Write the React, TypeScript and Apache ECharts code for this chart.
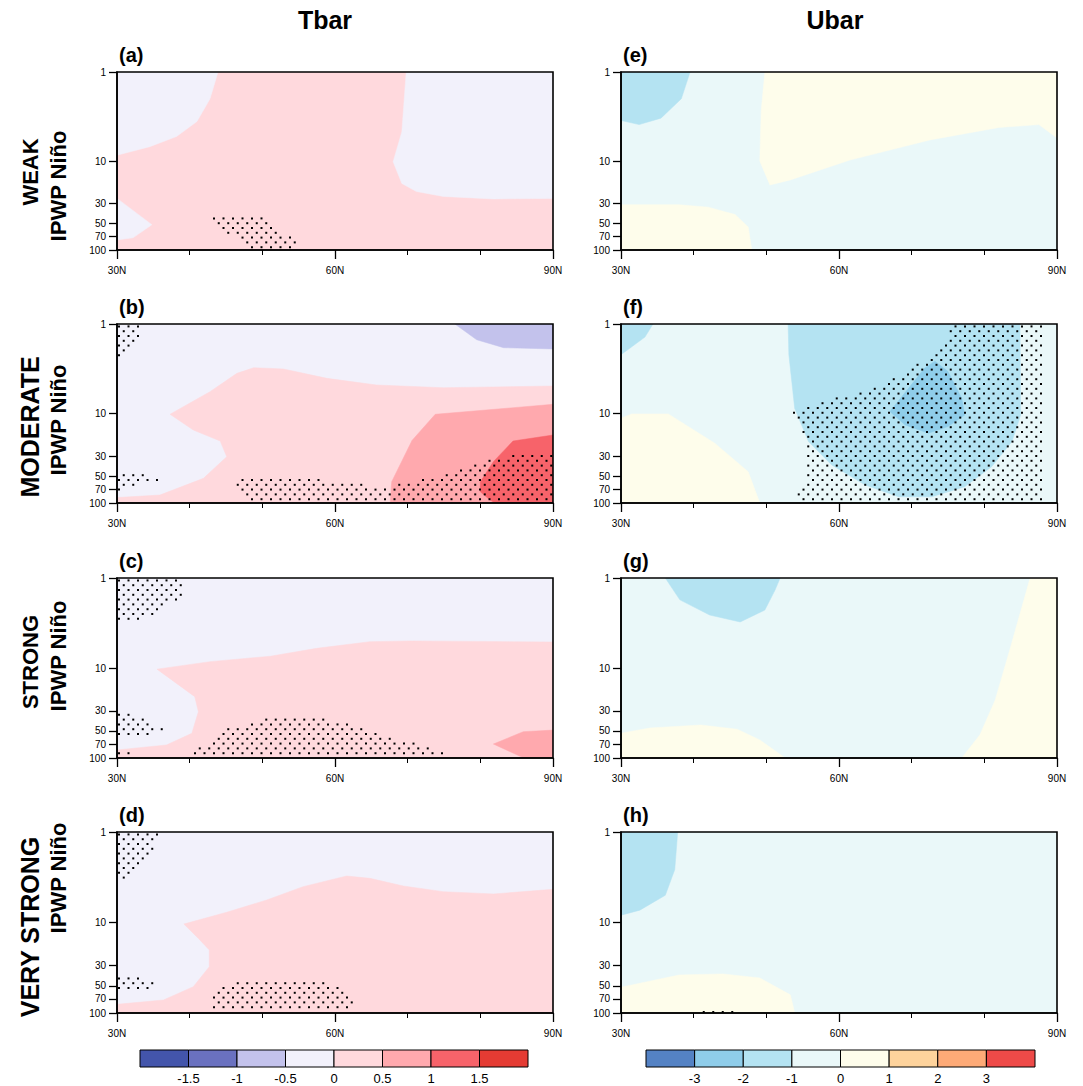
import React, { useEffect, useRef } from 'react';
import * as echarts from 'echarts';

const FONT = '"Liberation Sans", Arial, Helvetica, sans-serif';

// ---- tick labels / levels ----
const LAT_TICKS_MAJOR = 30; // 30N, 60N, 90N
const P_TICKS = [1, 10, 30, 50, 70, 100];
const TBAR_LEVELS = ['-1.5', '-1', '-0.5', '0', '0.5', '1', '1.5'];
const UBAR_LEVELS = ['-3', '-2', '-1', '0', '1', '2', '3'];
const TBAR_COLORS = ['#4355AB', '#6A71C0', '#C3C2EC', '#F2F1FB', '#FFD9DD', '#FFA9AE', '#F7636A', '#E43B33'];
const UBAR_COLORS = ['#5482C4', '#8FCDEA', '#B4E3F2', '#EAF8F9', '#FEFDEB', '#FED39C', '#FEAA77', '#EE4A48'];
const COLUMN_TITLES = ['Tbar', 'Ubar'];
const ROW_NAMES = ['WEAK', 'MODERATE', 'STRONG', 'VERY STRONG'];
const ROW_SUB = 'IPWP Niño';
const PANEL_TAGS = ['(a)', '(b)', '(c)', '(d)', '(e)', '(f)', '(g)', '(h)'];

// ---- contour regions: [latitude (°N), pressure (hPa)] ----
const FULL = [[30, 1], [90, 1], [90, 100], [30, 100]];

// (a) Tbar weak
const A_NEG_TOPLEFT = [[30, 1], [43.9, 1], [42.8, 2], [41, 3.6], [38.2, 5.3], [34.5, 6.9], [30, 8.6]];
const A_NEG_RIGHT = [[69.8, 1], [90, 1], [90, 26.3], [81.8, 26.7], [74.9, 25], [71.2, 22], [69.2, 17.9], [68, 10.2], [69.2, 4.7]];
const A_NEG_LOWLEFT = [[30, 26.3], [34.8, 52], [32.2, 73], [30, 77]];
const A_STIP = [[42.5, 44], [50.5, 44], [55, 85], [54.8, 97], [48, 97]];

// (b) Tbar moderate
const B_POS = [[30, 87], [35.9, 81.5], [41.9, 53], [45.1, 30.4], [44.2, 20.3], [40.5, 15.3], [37.3, 10.2], [42.8, 5.7], [46.5, 3.56], [48.8, 3.08], [52.9, 3.18], [58.9, 4.05], [65.7, 4.8], [74.9, 5.15], [90, 4.93], [90, 100], [30, 100]];
const B_POS2 = [[67.6, 100], [67.8, 58], [70.6, 20], [73.8, 10.2], [90, 7.9], [90, 100]];
const B_POS3 = [[82, 100], [81.3, 92], [80, 75], [80, 58], [81.8, 34.5], [84.5, 20.3], [90, 17.4], [90, 100]];
const B_NEG2 = [[76.5, 1], [90, 1], [90, 1.9], [83.2, 1.84], [79.5, 1.5]];
const B_STIP1 = [[30, 1], [33.5, 1], [33, 1.5], [31, 2.3], [30, 2.3]];
const B_STIP2 = [[30, 44], [33.5, 44], [36.3, 55], [33, 62], [30, 72]];
const B_STIP3 = [[46, 65.8], [47.2, 51.6], [55.4, 51.6], [61.1, 57.8], [67.1, 65.8], [70.3, 57.8], [73.1, 50.8], [76.8, 44.7], [78.6, 39.3], [80.4, 34.5], [83.2, 30.4], [86.8, 27.2], [90, 27.2], [90, 97], [47.8, 97]];

// (c) Tbar strong
const C_POS = [[30, 81.5], [36.8, 71.7], [40.3, 53.2], [41.2, 30.6], [40.7, 20.8], [35.5, 10.3], [42.8, 8.5], [51.1, 7.4], [57.5, 6.04], [64.8, 5.1], [70.3, 5.0], [90, 5.14], [90, 100], [30, 100]];
const C_POS2 = [[81.8, 70], [85.9, 51], [90, 49], [90, 100], [86, 100]];
const C_STIP1 = [[30, 1], [39.2, 1], [38.8, 1.6], [37.5, 1.95], [35, 2.5], [32.5, 3.2], [30, 3.2]];
const C_STIP2 = [[30, 32], [32.5, 32], [34.8, 40], [36.8, 48], [35, 56], [30, 58]];
const C_STIP3 = [[30, 82], [33.8, 92], [33.8, 98], [30, 98]];
const C_STIP4 = [[39.2, 97], [41, 81], [42, 72], [42.6, 64], [43.7, 54], [44.3, 47], [48.5, 41], [51.8, 35], [58.2, 35], [61.5, 41], [63.2, 46], [65, 52], [69, 62], [72.5, 72], [74.3, 80], [76.4, 92], [76.4, 97]];

// (d) Tbar very strong
const D_POS = [[30, 80.2], [36.4, 71.8], [40.5, 51.2], [42.7, 30.8], [42.7, 20.1], [41.2, 15], [39.2, 10.4], [45.1, 7.7], [50.6, 5.64], [55.6, 4.02], [61.6, 3.06], [64.8, 3.25], [69.4, 3.95], [74.9, 4.56], [81.8, 4.84], [90, 4.3], [90, 100], [30, 100]];
const D_STIP1 = [[30, 1], [36, 1], [35.3, 1.5], [33.9, 1.95], [32.3, 2.6], [31, 3.3], [30, 3.3]];
const D_STIP2 = [[30, 38], [32, 38], [36, 46], [34.5, 53], [30, 53]];
const D_STIP3 = [[42.7, 97], [42.8, 72], [43.5, 62], [44.3, 53], [45.8, 45.5], [47, 42], [56, 42], [59.5, 47], [61, 52], [62, 60], [62.8, 72], [62.8, 97]];

// (e) Ubar weak
const E_NEG = [[30, 1], [39.5, 1], [38.3, 2], [35.5, 3.3], [32.5, 3.9], [30, 3.5]];
const E_POS_TOP = [[49.8, 1], [90, 1], [90, 5.5], [87.5, 3.9], [82, 4.2], [72.5, 5.8], [61.5, 9.75], [53.3, 16.3], [50.5, 18.6], [49.1, 10], [49.3, 2.7]];
const E_POS_LOW = [[30, 31], [38, 31], [42, 33], [45.7, 40], [47.5, 55], [48, 100], [30, 100]];

// (f) Ubar moderate
const F_NEG_TL = [[30, 1], [34.4, 1], [33.3, 1.4], [30, 2.2]];
const F_POS = [[30, 11.3], [31.5, 10.1], [36.5, 10.1], [42.9, 21.5], [47.5, 44.7], [49.1, 100], [30, 100]];
const F_NEG = [[53, 1], [84.9, 1], [85, 10.4], [83.8, 20.6], [81, 39.3], [77.3, 65.8], [72.8, 85], [68.2, 85], [63.6, 63], [59, 37.6], [55.8, 20.6], [53.9, 8.75], [53.1, 2.2]];
const F_NEG2 = [[73.2, 2.6], [75, 3.4], [76.9, 6.8], [77.3, 10.4], [75, 14], [72.3, 16.6], [69.1, 13.4], [67, 9.5], [69.6, 5.2], [71.8, 3.1]];
const F_STIP1 = [[76, 1], [88.2, 1], [88.2, 100], [54, 100], [54.2, 85], [55.6, 48.7], [55.8, 24.5], [54.2, 12.3], [53.2, 10.2], [54, 9.5], [57.6, 7.4], [61.3, 6.2], [65.9, 4.6], [69.6, 3.27], [73.2, 2.13]];
const F_STIP2 = [[40, 95], [43.5, 95], [43.5, 100], [40, 100]];

// (g) Ubar strong
const G_NEG = [[36.1, 1], [51.9, 1], [51.2, 1.36], [49.8, 2.27], [46.4, 3.08], [42.2, 2.58], [38.1, 1.75]];
const G_POS_R = [[86.3, 1], [90, 1], [90, 100], [76.9, 100], [79.4, 55], [81.5, 22.7], [83.5, 6.3]];
const G_POS_L = [[30, 53], [34, 46.4], [41, 43], [46, 48], [49.1, 63], [52.6, 100], [30, 100]];

// (h) Ubar very strong
const H_NEG = [[30, 1], [37.8, 1], [37.4, 2.6], [36.1, 5], [32.6, 7.3], [30, 8.3]];
const H_POS = [[30, 52], [38, 38], [44, 37], [49.1, 41], [53.3, 63], [53.9, 100], [30, 100]];
const H_STIP = [[40.3, 93], [46.2, 93], [46.2, 100], [40.3, 100]];

type Poly = number[][];
interface Fill { level: number; poly: Poly }
interface Panel { palette: string[]; fills: Fill[]; stipples: Poly[] }

const PANELS: Panel[] = [
  { palette: TBAR_COLORS, fills: [{ level: 4, poly: FULL }, { level: 3, poly: A_NEG_TOPLEFT }, { level: 3, poly: A_NEG_RIGHT }, { level: 3, poly: A_NEG_LOWLEFT }], stipples: [A_STIP] },
  { palette: TBAR_COLORS, fills: [{ level: 3, poly: FULL }, { level: 4, poly: B_POS }, { level: 5, poly: B_POS2 }, { level: 6, poly: B_POS3 }, { level: 2, poly: B_NEG2 }], stipples: [B_STIP1, B_STIP2, B_STIP3] },
  { palette: TBAR_COLORS, fills: [{ level: 3, poly: FULL }, { level: 4, poly: C_POS }, { level: 5, poly: C_POS2 }], stipples: [C_STIP1, C_STIP2, C_STIP3, C_STIP4] },
  { palette: TBAR_COLORS, fills: [{ level: 3, poly: FULL }, { level: 4, poly: D_POS }], stipples: [D_STIP1, D_STIP2, D_STIP3] },
  { palette: UBAR_COLORS, fills: [{ level: 3, poly: FULL }, { level: 2, poly: E_NEG }, { level: 4, poly: E_POS_TOP }, { level: 4, poly: E_POS_LOW }], stipples: [] },
  { palette: UBAR_COLORS, fills: [{ level: 3, poly: FULL }, { level: 2, poly: F_NEG_TL }, { level: 4, poly: F_POS }, { level: 2, poly: F_NEG }, { level: 1, poly: F_NEG2 }], stipples: [F_STIP1, F_STIP2] },
  { palette: UBAR_COLORS, fills: [{ level: 3, poly: FULL }, { level: 2, poly: G_NEG }, { level: 4, poly: G_POS_R }, { level: 4, poly: G_POS_L }], stipples: [] },
  { palette: UBAR_COLORS, fills: [{ level: 3, poly: FULL }, { level: 2, poly: H_NEG }, { level: 4, poly: H_POS }], stipples: [H_STIP] },
];

// ---- layout (pixels) ----
const COL_LEFT = [117, 621];
const PANEL_W = 436;
const ROW_TOP = [72, 324, 578, 832];
const ROW_H = [178, 179, 180, 181];
const ROW_LABEL_Y = [172, 427, 662, 927];
const ROW_LABEL_SIZE = [22, 25, 22, 25];
const SUB_LABEL_Y = [186, 420, 656, 878];

function inPoly(x: number, y: number, pts: number[][]) {
  let inside = false;
  for (let i = 0, j = pts.length - 1; i < pts.length; j = i++) {
    const xi = pts[i][0], yi = pts[i][1], xj = pts[j][0], yj = pts[j][1];
    if ((yi > y) !== (yj > y) && x < ((xj - xi) * (y - yi)) / (yj - yi) + xi) inside = !inside;
  }
  return inside;
}

function textStyle(text: string, size: number, extra: any = {}) {
  return { text, fontSize: size, fontWeight: 'bold', fontFamily: FONT, fill: '#000', ...extra };
}

function buildOption() {
  const grid: any[] = [];
  const xAxis: any[] = [];
  const yAxis: any[] = [];
  const series: any[] = [];
  const graphic: any[] = [];
  const axisLineStyle = { color: '#000', width: 1.5 };
  const pTickVals = P_TICKS.map((p) => Math.log10(p));

  PANELS.forEach((panel, k) => {
    const col = k < 4 ? 0 : 1;
    const row = k % 4;
    grid.push({ left: COL_LEFT[col], top: ROW_TOP[row], width: PANEL_W, height: ROW_H[row], show: true, z: 10, backgroundColor: 'rgba(0,0,0,0)', borderColor: '#000', borderWidth: 1.6 });
    xAxis.push({
      gridIndex: k, type: 'value', min: 30, max: 90, interval: LAT_TICKS_MAJOR, z: 10,
      axisLine: { show: true, onZero: false, lineStyle: axisLineStyle },
      axisTick: { show: true, inside: false, length: 9, lineStyle: { color: '#000', width: 1.3 } },
      minorTick: { show: true, splitNumber: 3, length: 5, lineStyle: { color: '#000', width: 1 } },
      axisLabel: { formatter: (v: number) => v + 'N', fontSize: 10, color: '#000', margin: 15, fontFamily: FONT, showMinLabel: true, showMaxLabel: true },
      splitLine: { show: false },
    });
    yAxis.push({
      gridIndex: k, type: 'value', min: 0, max: 2, inverse: true, z: 10,
      axisLine: { show: true, onZero: false, lineStyle: axisLineStyle },
      axisTick: { show: true, inside: false, length: 8, customValues: pTickVals, lineStyle: { color: '#000', width: 1.3 } },
      axisLabel: { customValues: pTickVals, formatter: (v: number) => String(Math.round(Math.pow(10, v))), fontSize: 10, color: '#000', margin: 11, fontFamily: FONT },
      splitLine: { show: false },
    });
    const fills = panel.fills;
    series.push({
      type: 'custom', xAxisIndex: k, yAxisIndex: k, clip: true, silent: true, z: 1,
      data: fills.map((_, i) => [i]),
      renderItem: (params: any, api: any) => {
        const f = fills[params.dataIndex];
        const pts = f.poly.map(([lat, p]) => api.coord([lat, Math.log10(p)]));
        return { type: 'polygon', shape: { points: pts }, style: { fill: panel.palette[f.level], stroke: panel.palette[f.level], lineWidth: 0.5 } };
      },
    });
    if (panel.stipples.length) {
      const st = panel.stipples;
      series.push({
        type: 'custom', xAxisIndex: k, yAxisIndex: k, clip: true, silent: true, z: 3,
        data: st.map((_, i) => [i]),
        renderItem: (params: any, api: any) => {
          const pts = st[params.dataIndex].map(([lat, p]) => api.coord([lat, Math.log10(p)]));
          const o = api.coord([30, 0]);
          const dx = 9.5, dy = 4.8;
          let minX = Infinity, maxX = -Infinity, minY = Infinity, maxY = -Infinity;
          pts.forEach(([x, y]: number[]) => { minX = Math.min(minX, x); maxX = Math.max(maxX, x); minY = Math.min(minY, y); maxY = Math.max(maxY, y); });
          const children: any[] = [];
          const r0 = Math.floor((minY - o[1]) / dy), r1 = Math.ceil((maxY - o[1]) / dy);
          for (let r = r0; r <= r1; r++) {
            const y = o[1] + 2.4 + r * dy;
            const off = (r % 2 === 0 ? 2 : 2 + dx / 2);
            const c0 = Math.floor((minX - o[0] - off) / dx), c1 = Math.ceil((maxX - o[0] - off) / dx);
            for (let c = c0; c <= c1; c++) {
              const x = o[0] + off + c * dx;
              if (inPoly(x, y, pts)) children.push({ type: 'rect', shape: { x: x - 1, y: y - 1, width: 2, height: 2 }, style: { fill: '#000' } });
            }
          }
          return { type: 'group', children };
        },
      });
    }
    graphic.push({ type: 'text', x: COL_LEFT[col] + 2, y: ROW_TOP[row] - 17, style: textStyle(PANEL_TAGS[k], 20, { textVerticalAlign: 'middle' }) });
  });

  // colorbars
  const CB_LEFT = [140, 646];
  const CB_W = [388, 389];
  [TBAR_COLORS, UBAR_COLORS].forEach((cols, c) => {
    const gi = 8 + c;
    const labels = c === 0 ? TBAR_LEVELS : UBAR_LEVELS;
    grid.push({ left: CB_LEFT[c], top: 1050, width: CB_W[c], height: 17 });
    xAxis.push({
      gridIndex: gi, type: 'value', min: 0, max: 8,
      axisLine: { show: false }, axisTick: { show: false }, splitLine: { show: false },
      axisLabel: { customValues: [1, 2, 3, 4, 5, 6, 7], formatter: (v: number) => labels[v - 1], fontSize: 13, color: '#000', margin: 5, fontFamily: FONT },
    });
    yAxis.push({ gridIndex: gi, type: 'value', min: 0, max: 1, show: false });
    series.push({
      type: 'custom', xAxisIndex: gi, yAxisIndex: gi, silent: true,
      data: cols.map((_, i) => [i]),
      renderItem: (params: any, api: any) => {
        const i = params.dataIndex;
        const a = api.coord([i, 1]);
        const b = api.coord([i + 1, 0]);
        return { type: 'rect', shape: { x: a[0], y: a[1], width: b[0] - a[0], height: b[1] - a[1] }, style: { fill: cols[i], stroke: '#000', lineWidth: 1 } };
      },
    });
  });

  // titles
  const titleX = [325, 835];
  COLUMN_TITLES.forEach((t, c) => {
    graphic.push({ type: 'text', x: titleX[c], y: 20, style: textStyle(t, 25, { textAlign: 'center', textVerticalAlign: 'middle' }) });
  });
  ROW_NAMES.forEach((name, r) => {
    graphic.push({ type: 'text', x: 30, y: ROW_LABEL_Y[r], rotation: Math.PI / 2, style: textStyle(name, ROW_LABEL_SIZE[r], { textAlign: 'center', textVerticalAlign: 'middle' }) });
    graphic.push({ type: 'text', x: 58, y: SUB_LABEL_Y[r], rotation: Math.PI / 2, style: textStyle(ROW_SUB, 22, { textAlign: 'center', textVerticalAlign: 'middle' }) });
  });

  return { animation: false, backgroundColor: '#fff', grid, xAxis, yAxis, series, graphic };
}

export default function App() {
  const ref = useRef<HTMLDivElement>(null);
  useEffect(() => {
    if (!ref.current) return;
    const chart = echarts.init(ref.current, null, { renderer: 'svg' });
    chart.setOption(buildOption() as any);
    return () => chart.dispose();
  }, []);
  return <div ref={ref} style={{ position: 'fixed', left: 0, top: 0, width: 1083, height: 1086 }} />;
}
